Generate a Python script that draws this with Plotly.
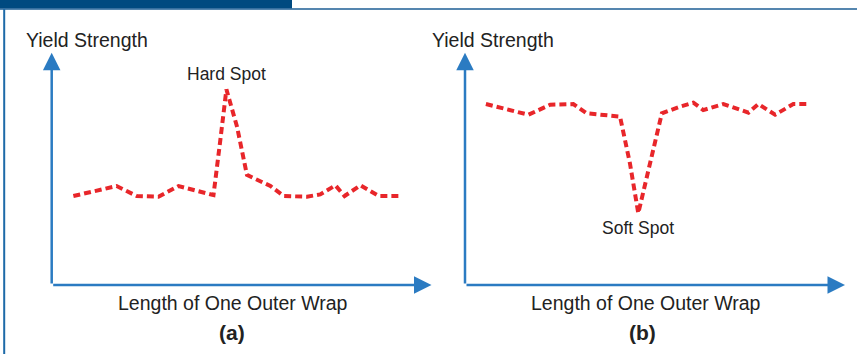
import plotly.graph_objects as go

W, H = 857, 354

# ---- data (relative units: length 0-100 along wrap, yield strength 0-100) ----
hard_x = [5.7, 11.4, 17.1, 22.4, 28.1, 33.4, 38.2, 42.6, 44.4, 46.0, 48.8, 51.4,
          57.6, 61.1, 67.2, 70.7, 74.7, 77.1, 81.3, 86.1, 91.8]
hard_y = [38.3, 40.6, 42.6, 38.3, 38.0, 42.6, 40.5, 38.7, 62.4, 84.2, 68.1, 47.4,
          42.6, 38.3, 38.0, 39.0, 42.9, 38.3, 42.9, 38.3, 38.3]

soft_x = [5.5, 11.0, 16.7, 22.4, 28.5, 32.0, 36.4, 40.8, 43.4, 45.6, 48.7, 51.8,
          56.6, 60.1, 62.7, 68.0, 74.6, 77.2, 81.6, 86.4, 90.3]
soft_y = [77.9, 75.6, 73.3, 77.6, 77.9, 73.9, 73.0, 72.5, 52.4, 30.9, 52.4, 73.9,
          76.8, 78.5, 75.3, 77.9, 74.2, 77.9, 73.3, 77.9, 77.9]

y_label = "Yield Strength"
x_label = "Length of One Outer Wrap"
panel_labels = ["(a)", "(b)"]
spot_labels = ["Hard Spot", "Soft Spot"]

RED = "#e8262a"
BLUE = "#2b7bc2"
DARK = "#004a80"
TXT = "#222222"
FONT = "Liberation Sans, Arial, sans-serif"

fig = go.Figure()
line_style = dict(color=RED, width=4, dash="7px,4px")
fig.add_trace(go.Scatter(x=hard_x, y=hard_y, mode="lines", line=line_style,
                         xaxis="x", yaxis="y", hoverinfo="skip"))
fig.add_trace(go.Scatter(x=soft_x, y=soft_y, mode="lines", line=line_style,
                         xaxis="x2", yaxis="y2", hoverinfo="skip"))

ydom = [(H - 285) / H, (H - 52.7) / H]
ax_common = dict(range=[0, 100], visible=False, fixedrange=True)
fig.update_layout(
    width=W, height=H,
    margin=dict(l=0, r=0, t=0, b=0),
    paper_bgcolor="white", plot_bgcolor="rgba(0,0,0,0)",
    showlegend=False,
    xaxis=dict(domain=[51.7 / W, 431.5 / W], anchor="y", **ax_common),
    yaxis=dict(domain=ydom, anchor="x", **ax_common),
    xaxis2=dict(domain=[465 / W, 845 / W], anchor="y2", **ax_common),
    yaxis2=dict(domain=ydom, anchor="x2", **ax_common),
    font=dict(family=FONT, color=TXT),
)

annotations = []
# axis arrows
for xr, yr in [("x", "y"), ("x2", "y2")]:
    for (tx, ty) in [(100, 0), (0, 100)]:
        annotations.append(dict(
            x=tx, y=ty, ax=0, ay=0, xref=xr, yref=yr, axref=xr, ayref=yr,
            text="", showarrow=True, arrowhead=2, arrowsize=1.4,
            arrowwidth=2.5, arrowcolor=BLUE, standoff=0, startstandoff=0))

# spot labels
pk = hard_y.index(max(hard_y))
annotations.append(dict(x=hard_x[pk], y=hard_y[pk], xref="x", yref="y",
                        text=spot_labels[0], showarrow=False, yshift=15,
                        font=dict(size=17.5, color=TXT, family=FONT)))
tr = soft_y.index(min(soft_y))
annotations.append(dict(x=soft_x[tr], y=soft_y[tr], xref="x2", yref="y2",
                        text=spot_labels[1], showarrow=False, yshift=-15,
                        font=dict(size=17.5, color=TXT, family=FONT)))

# axis titles and panel labels
for x_left, x_center in [(24, 233), (430, 646)]:
    annotations.append(dict(x=x_left / W, y=(H - 40) / H, xref="paper", yref="paper",
                            text=y_label, showarrow=False, xanchor="left", yanchor="middle",
                            font=dict(size=19.5, color=TXT, family=FONT)))
    annotations.append(dict(x=x_center / W, y=(H - 303) / H, xref="paper", yref="paper",
                            text=x_label, showarrow=False, xanchor="center", yanchor="middle",
                            font=dict(size=19.5, color=TXT, family=FONT)))
for lab, xc in zip(panel_labels, [232, 642]):
    annotations.append(dict(x=xc / W, y=(H - 332) / H, xref="paper", yref="paper",
                            text="<b>" + lab + "</b>", showarrow=False,
                            xanchor="center", yanchor="middle",
                            font=dict(size=21, color=TXT, family=FONT)))

fig.update_layout(annotations=annotations)

# frame decoration
shapes = [
    dict(type="rect", xref="paper", yref="paper", x0=0, x1=292 / W, y0=(H - 8.5) / H, y1=1,
         fillcolor=DARK, line=dict(width=0), layer="above"),
    dict(type="line", xref="paper", yref="paper", x0=0, x1=1, y0=(H - 9) / H, y1=(H - 9) / H,
         line=dict(color="#1c5e95", width=1.5)),
    dict(type="line", xref="paper", yref="paper", x0=4.2 / W, x1=4.2 / W, y0=0, y1=(H - 9) / H,
         line=dict(color="#1d6aa8", width=2)),
]
fig.update_layout(shapes=shapes)

fig.write_html("out.html")
